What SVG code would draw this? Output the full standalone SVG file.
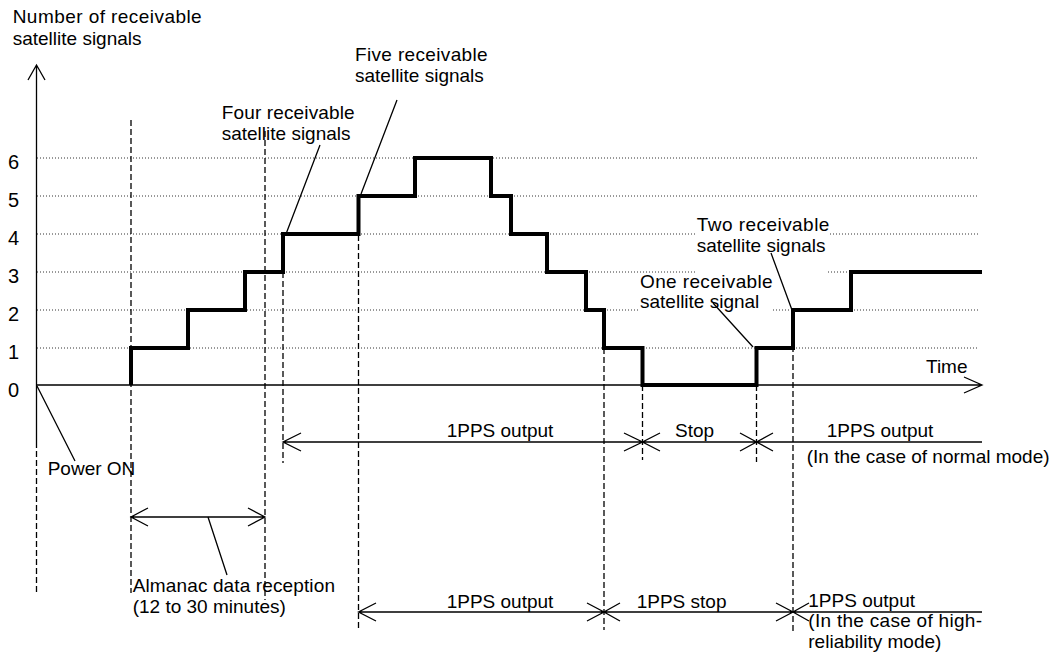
<svg xmlns="http://www.w3.org/2000/svg" width="1063" height="660" viewBox="0 0 1063 660">
<defs>
<style>
text{font-family:"Liberation Sans",Arial,sans-serif;font-size:19px;fill:#000}
.num{font-size:20px}
.grid{stroke:#333;stroke-width:1;stroke-dasharray:1,2;fill:none}
.dash{stroke:#000;stroke-width:1.3;stroke-dasharray:6,3;fill:none}
.ln{stroke:#000;stroke-width:1.3;fill:none}
.step{stroke:#000;stroke-width:4;fill:none;stroke-linejoin:miter}
</style>
</defs>
<rect width="1063" height="660" fill="#fff"/>
<g id="grid">
<path class="grid" d="M37 158H979M37 196H979M37 234H695M830 234H979M37 272H695M828 272H979M37 310H640M773 310H979M37 348H979"/>
</g>
<g id="axes">
<path class="ln" d="M36.5 65V442M28 80L36.5 65L45 80"/>
<path class="ln" d="M36.5 385H982M964 377L982 385L964 393"/>
<text x="926" y="373">Time</text>
<text class="num" x="8" y="169">6</text>
<text class="num" x="8" y="207">5</text>
<text class="num" x="8" y="245">4</text>
<text class="num" x="8" y="283">3</text>
<text class="num" x="8" y="321">2</text>
<text class="num" x="8" y="359">1</text>
<text class="num" x="8" y="397">0</text>
<text x="12.7" y="23" textLength="189" lengthAdjust="spacing">Number of receivable</text>
<text x="12.7" y="45">satellite signals</text>
</g>
<g id="guides">
<path class="dash" d="M36.5 442V593M131 120V593M265 131V600M283 272V463M358.5 235V630M604 348V630M642.5 385V460M756.5 385V462M793 310V633"/>
</g>
<g id="curve">
<path class="step" d="M131 385V348H188V310H245V272H283V234H358.5V196H415V158H491V196H511V234H547V272H586V310H604V348H642.5V385H756.5V348H793V310H851V272H982"/>
</g>
<g id="connectors">
<path class="ln" d="M320 145L286 234M397 100L361 194M771 253L792 310M713 303L753 347M37 386L75 461M208 517L227 575"/>
<path class="ln" d="M283 442H982M301 433L283 442L301 451M624 433L642.5 442L624 451M660 433L642.5 442L660 451M740 433L756.5 442L740 451M773 433L756.5 442L773 451"/>
<path class="ln" d="M131 517H265M148 508L131 517L148 526M248 508L265 517L248 526"/>
<path class="ln" d="M358.5 612H982M376 603L358.5 612L376 621M587 603L604 612L587 621M620 603L604 612L620 621M776 603L793 612L776 621M809 603L793 612L809 621"/>
</g>
<g id="labels">
<text x="221.7" y="119" textLength="133" lengthAdjust="spacing">Four receivable</text>
<text x="221.7" y="140">satellite signals</text>
<text x="355" y="61" textLength="132.7" lengthAdjust="spacing">Five  receivable</text>
<text x="355" y="82">satellite signals</text>
<text x="696.7" y="231" textLength="132.7" lengthAdjust="spacing">Two  receivable</text>
<text x="696.7" y="252">satellite signals</text>
<text x="640" y="288" textLength="132.7" lengthAdjust="spacing">One  receivable</text>
<text x="640" y="308">satellite signal</text>
<text x="47.7" y="475">Power ON</text>
<text x="446.7" y="437">1PPS output</text>
<text x="675" y="437">Stop</text>
<text x="826.7" y="437">1PPS output</text>
<text x="806.7" y="463">(In the case of normal mode)</text>
<text x="132.7" y="592" textLength="202.3" lengthAdjust="spacing">Almanac data reception</text>
<text x="132.7" y="613">(12 to 30 minutes)</text>
<text x="446.7" y="608">1PPS output</text>
<text x="636.7" y="608">1PPS stop</text>
<text x="808.3" y="607">1PPS output</text>
<text x="808.3" y="627" textLength="173.7" lengthAdjust="spacing">(In the case of high-</text>
<text x="808.3" y="648">reliability mode)</text>
</g>
</svg>
